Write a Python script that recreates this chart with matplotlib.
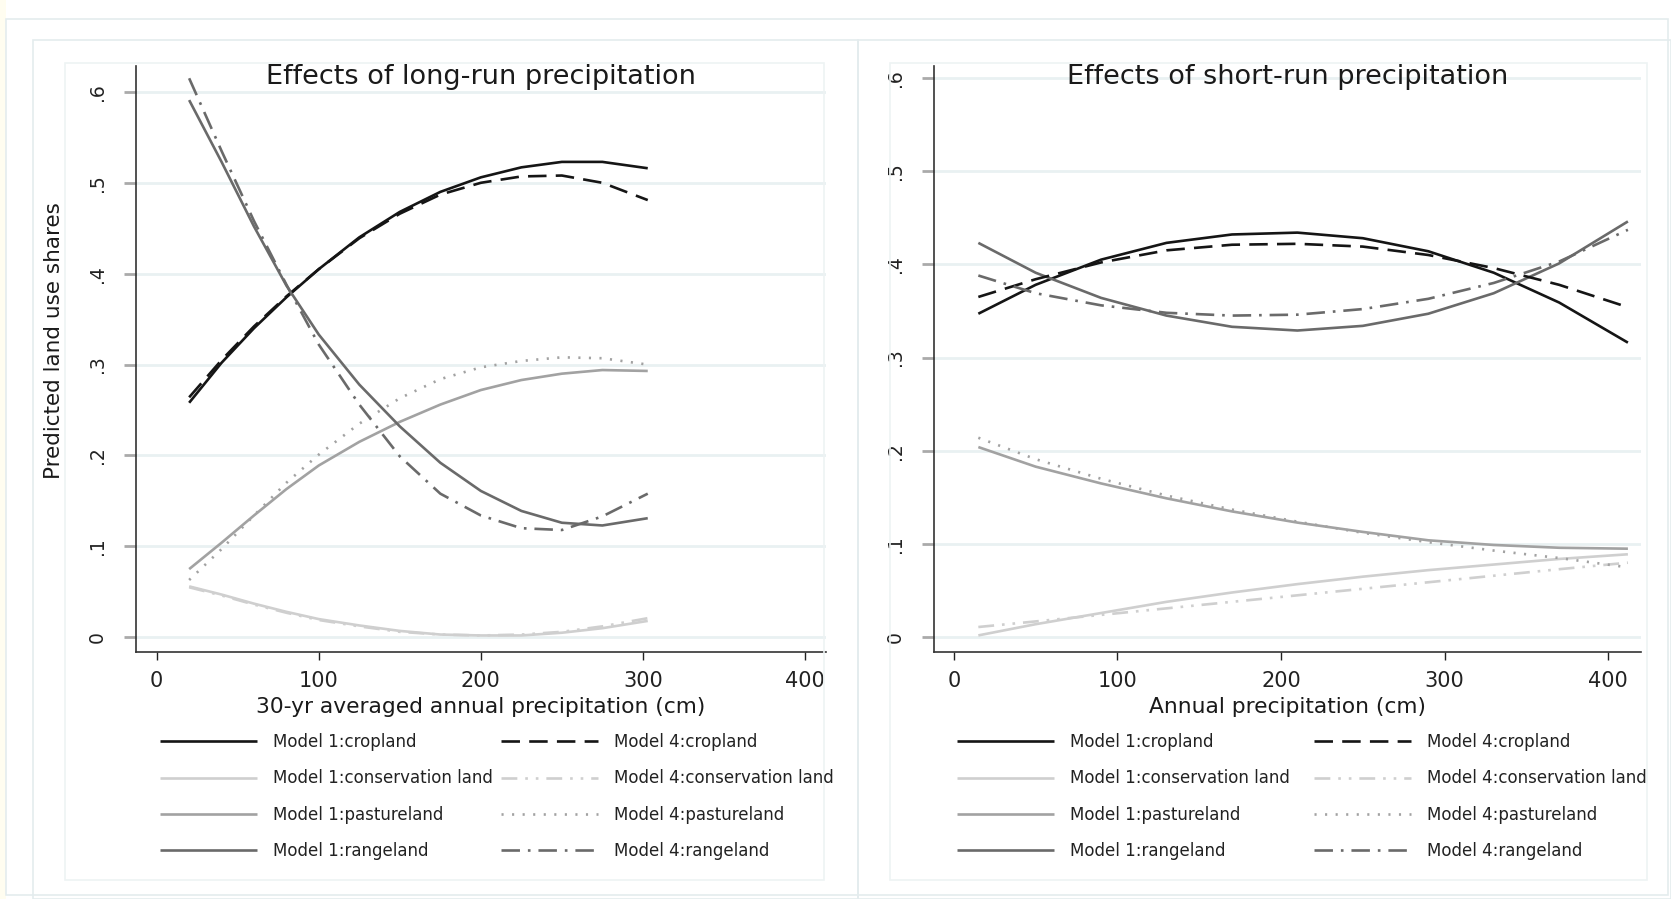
import matplotlib
matplotlib.use("Agg")
import matplotlib.pyplot as plt
from matplotlib.patches import Rectangle

W, H = 1671, 899

# ---- long-run panel (30-yr averaged precipitation, cm) ----
x_long = [20, 40, 60, 80, 100, 125, 150, 175, 200, 225, 250, 275, 303]
crop_m1_long = [0.258, 0.302, 0.340, 0.374, 0.405, 0.440, 0.468, 0.490, 0.506, 0.517, 0.523, 0.523, 0.516]
crop_m4_long = [0.264, 0.305, 0.342, 0.375, 0.405, 0.439, 0.466, 0.487, 0.500, 0.507, 0.508, 0.500, 0.481]
cons_m1_long = [0.056, 0.047, 0.037, 0.028, 0.020, 0.013, 0.007, 0.003, 0.002, 0.002, 0.005, 0.010, 0.018]
cons_m4_long = [0.055, 0.046, 0.036, 0.027, 0.019, 0.012, 0.006, 0.003, 0.002, 0.003, 0.006, 0.012, 0.021]
past_m1_long = [0.075, 0.104, 0.134, 0.163, 0.189, 0.215, 0.237, 0.256, 0.272, 0.283, 0.290, 0.294, 0.293]
past_m4_long = [0.063, 0.097, 0.134, 0.170, 0.201, 0.235, 0.263, 0.284, 0.297, 0.304, 0.308, 0.307, 0.300]
range_m1_long = [0.591, 0.523, 0.452, 0.387, 0.333, 0.278, 0.232, 0.192, 0.161, 0.139, 0.126, 0.123, 0.131]
range_m4_long = [0.615, 0.535, 0.458, 0.388, 0.322, 0.256, 0.199, 0.158, 0.134, 0.120, 0.118, 0.133, 0.158]

# ---- short-run panel (annual precipitation, cm) ----
x_short = [15, 50, 90, 130, 170, 210, 250, 290, 330, 370, 412]
crop_m1_short = [0.347, 0.378, 0.405, 0.423, 0.432, 0.434, 0.428, 0.414, 0.391, 0.359, 0.316]
crop_m4_short = [0.365, 0.384, 0.402, 0.415, 0.421, 0.422, 0.419, 0.410, 0.396, 0.378, 0.354]
cons_m1_short = [0.002, 0.014, 0.026, 0.038, 0.048, 0.057, 0.065, 0.072, 0.078, 0.084, 0.089]
cons_m4_short = [0.011, 0.017, 0.024, 0.031, 0.038, 0.045, 0.052, 0.059, 0.066, 0.073, 0.080]
past_m1_short = [0.204, 0.183, 0.165, 0.149, 0.135, 0.123, 0.113, 0.104, 0.099, 0.096, 0.095]
past_m4_short = [0.214, 0.191, 0.170, 0.152, 0.137, 0.124, 0.112, 0.102, 0.093, 0.085, 0.075]
range_m1_short = [0.423, 0.391, 0.364, 0.345, 0.333, 0.329, 0.334, 0.347, 0.369, 0.401, 0.446]
range_m4_short = [0.388, 0.369, 0.356, 0.348, 0.345, 0.346, 0.352, 0.363, 0.380, 0.403, 0.437]

labels = ["Model 1:cropland", "Model 1:conservation land", "Model 1:pastureland", "Model 1:rangeland",
          "Model 4:cropland", "Model 4:conservation land", "Model 4:pastureland", "Model 4:rangeland"]
yticks = [0, 0.1, 0.2, 0.3, 0.4, 0.5, 0.6]
yticklabels = ["0", ".1", ".2", ".3", ".4", ".5", ".6"]
xticks = [0, 100, 200, 300, 400]

# line looks: colour, dash pattern (None = solid)
c_crop, c_cons, c_past, c_range = "#151515", "#cfcfcf", "#a2a2a2", "#6a6a6a"
styles = [
    (c_crop, None), (c_cons, None), (c_past, None), (c_range, None),
    (c_crop, (7, 3.5)), (c_cons, (6, 3, 1, 3, 1, 3)), (c_past, (0.8, 3.2)), (c_range, (7, 3, 1, 3)),
]
lw = 1.9

fig = plt.figure(figsize=(W / 100, H / 100), dpi=100)

# faint Stata-like frames
def frame(x0, y0, x1, y1, color="#e4ecee", lw=1.2):
    fig.add_artist(Rectangle((x0 / W, 1 - y1 / H), (x1 - x0) / W, (y1 - y0) / H,
                             transform=fig.transFigure, fill=False, ec=color, lw=lw))

fig.add_artist(Rectangle((0, 0), 6 / W, 1, transform=fig.transFigure, color="#fffdf0", lw=0))
frame(6, 19, 1668, 895)
frame(33, 40, 858, 899)
frame(858, 40, 1671, 899)
frame(65, 63, 824, 880, color="#eef3f4")
frame(890, 63, 1647, 880, color="#eef3f4")

ax1 = fig.add_axes([136 / W, 1 - 652 / H, 690 / W, 586 / H])
ax2 = fig.add_axes([934 / W, 1 - 652 / H, 707 / W, 586 / H])

panels = [
    (ax1, x_long, [crop_m1_long, cons_m1_long, past_m1_long, range_m1_long,
                   crop_m4_long, cons_m4_long, past_m4_long, range_m4_long],
     "Effects of long-run precipitation", "30-yr averaged annual precipitation (cm)",
     (-12.8, 413), (-0.0162, 0.6285), 160, 501),
    (ax2, x_short, [crop_m1_short, cons_m1_short, past_m1_short, range_m1_short,
                    crop_m4_short, cons_m4_short, past_m4_short, range_m4_short],
     "Effects of short-run precipitation", "Annual precipitation (cm)",
     (-12.1, 420), (-0.0158, 0.6127), 957, 1314),
]

for ax, xs, series, title, xlabel, xlim, ylim, leg_x1, leg_x2 in panels:
    handles = []
    # Model 1 lines first, then Model 4
    for ys, (col, dash), lab in zip(series, styles, labels):
        if dash is None:
            ln, = ax.plot(xs, ys, color=col, lw=lw, label=lab, solid_capstyle="butt")
        else:
            ln, = ax.plot(xs, ys, color=col, lw=lw, label=lab, dashes=dash)
        handles.append(ln)

    ax.set_xlim(*xlim)
    ax.set_ylim(*ylim)
    ax.set_xticks(xticks)
    ax.set_yticks(yticks)
    ax.set_yticklabels(yticklabels, rotation=90, va="center")
    ax.yaxis.grid(True, color="#e9f1f2", lw=2)
    ax.set_axisbelow(True)
    for s in ["top", "right"]:
        ax.spines[s].set_visible(False)
    for s in ["left", "bottom"]:
        ax.spines[s].set_color("#333333")
        ax.spines[s].set_linewidth(1.2)
    ax.tick_params(axis="y", length=9, width=2, color="#aaaaaa", pad=12, labelsize=13.5, labelcolor="#222222")
    ax.tick_params(axis="x", length=6, width=1, color="#222222", pad=8, labelsize=15, labelcolor="#222222")

    ax.text(0.5, (652 - 77) / 586, title, transform=ax.transAxes, ha="center", va="center",
            fontsize=19.5, color="#1a1a1a")
    ax.text(0.5, -(707 - 652) / 586, xlabel, transform=ax.transAxes, ha="center", va="center",
            fontsize=15.7, color="#1a1a1a")

    # two legend columns placed separately
    for hs, lx in [(handles[:4], leg_x1), (handles[4:], leg_x2)]:
        leg = fig.legend(handles=hs, loc="upper left", bbox_to_anchor=(lx / W, 1 - 733 / H),
                         frameon=False, fontsize=12, handlelength=5.8, handletextpad=1.0,
                         labelspacing=1.1, borderpad=0, borderaxespad=0)
        for t in leg.get_texts():
            t.set_color("#222222")

fig.text(54 / W, 1 - 341 / H, "Predicted land use shares", rotation=90, ha="center", va="center",
         fontsize=15.5, color="#1a1a1a")

plt.savefig("out.png", dpi=100)
